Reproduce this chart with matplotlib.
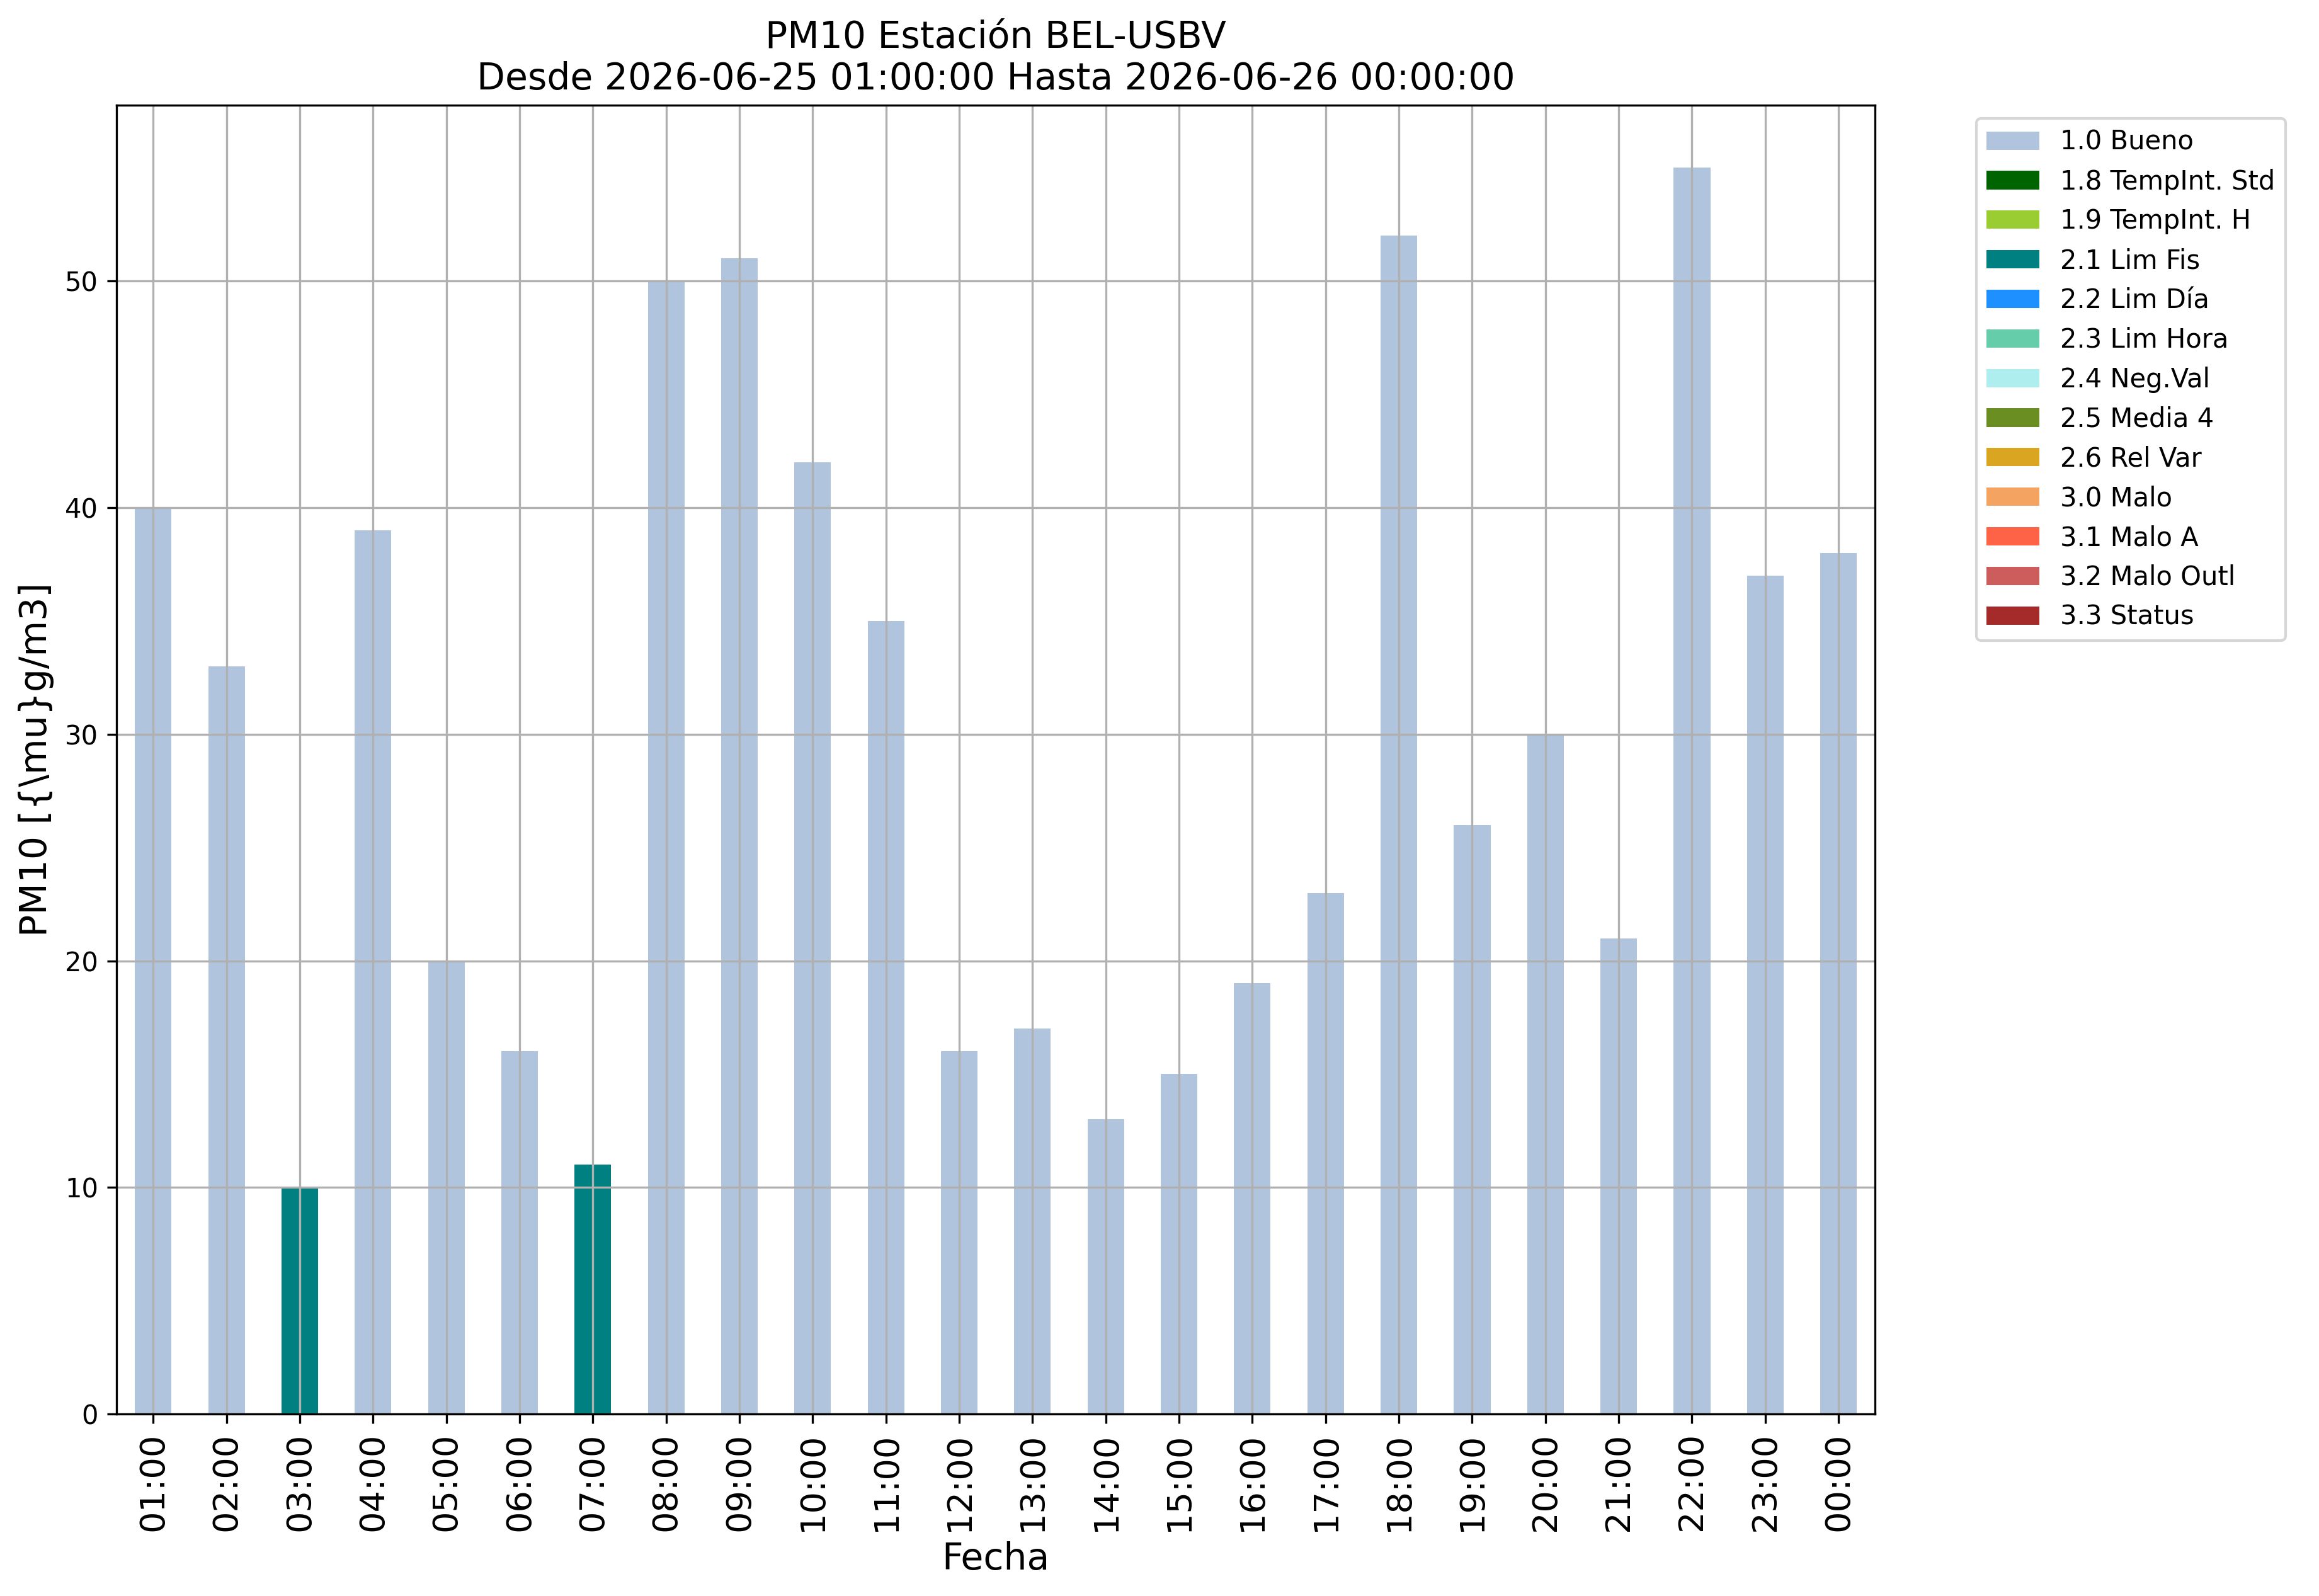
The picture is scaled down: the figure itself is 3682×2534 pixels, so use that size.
import matplotlib
matplotlib.use('Agg')
import matplotlib.pyplot as plt
import numpy as np

horas = ['01:00', '02:00', '03:00', '04:00', '05:00', '06:00', '07:00', '08:00',
         '09:00', '10:00', '11:00', '12:00', '13:00', '14:00', '15:00', '16:00',
         '17:00', '18:00', '19:00', '20:00', '21:00', '22:00', '23:00', '00:00']
pm10 = [40, 33, 10, 39, 20, 16, 11, 50, 51, 42, 35, 16, 17, 13, 15, 19,
        23, 52, 26, 30, 21, 55, 37, 38]
flags = ['1.0', '1.0', '2.1', '1.0', '1.0', '1.0', '2.1', '1.0', '1.0', '1.0', '1.0', '1.0',
         '1.0', '1.0', '1.0', '1.0', '1.0', '1.0', '1.0', '1.0', '1.0', '1.0', '1.0', '1.0']

codigos = ['1.0', '1.8', '1.9', '2.1', '2.2', '2.3', '2.4', '2.5', '2.6', '3.0', '3.1', '3.2', '3.3']
nombres = ['Bueno', 'TempInt. Std', 'TempInt. H', 'Lim Fis', 'Lim Día', 'Lim Hora',
           'Neg.Val', 'Media 4', 'Rel Var', 'Malo', 'Malo A', 'Malo Outl', 'Status']
colores = ['lightsteelblue', 'darkgreen', 'yellowgreen', 'teal', 'dodgerblue',
           'mediumaquamarine', 'paleturquoise', 'olivedrab', 'goldenrod', 'sandybrown',
           'tomato', 'indianred', 'brown']

fig = plt.figure(figsize=(3682 / 300, 2534 / 300), dpi=300)
ax = fig.add_axes([0.0503, 0.114, 0.7583, 0.820])

x = np.arange(len(horas))
valores = np.array(pm10, dtype=float)
banderas = np.array(flags)
base = np.zeros(len(horas))
for cod, nom, col in zip(codigos, nombres, colores):
    h = np.where(banderas == cod, valores, 0.0)
    ax.bar(x, h, 0.5, bottom=base, color=col, label=cod + ' ' + nom)
    base += h

ax.set_xlim(-0.5, len(horas) - 0.5)
ax.set_ylim(0, base.max() * 1.05)
ax.set_xticks(x)
ax.set_xticklabels(horas, rotation=90, fontsize=13)
ax.tick_params(axis='y', labelsize=10)
ax.grid(True)
ax.set_xlabel('Fecha', fontsize=14)
ax.set_ylabel('PM10 [{\\mu}g/m3]', fontsize=14)
ax.set_title('PM10 Estación BEL-USBV\nDesde 2026-06-25 01:00:00 Hasta 2026-06-26 00:00:00',
             fontsize=14)
ax.legend(bbox_to_anchor=(1.05, 1), loc='upper left', fontsize=10)

fig.savefig('out.png', dpi=300)
